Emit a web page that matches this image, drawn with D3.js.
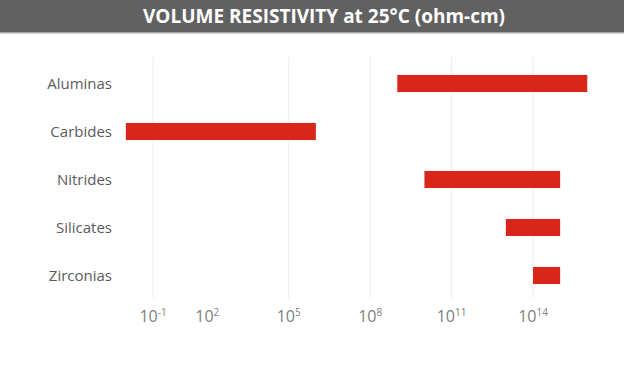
<!DOCTYPE html>
<html>
<head>
<meta charset="utf-8">
<script src="https://cdn.jsdelivr.net/npm/d3@7"></script>
<style>
  html, body { margin: 0; padding: 0; background: #fff; }
  svg { display: block; }
  .cat   { font-family: "Open Sans", sans-serif; font-size: 15px; fill: #5b5b5b; }
  .tick  { font-family: "Open Sans", sans-serif; font-size: 16px; fill: #808080; }
  .title { font-family: "Open Sans", sans-serif; font-size: 19px; font-weight: 700; fill: #fff; }
</style>
</head>
<body>
<svg id="chart"></svg>
<script>
/* data */
const categories = ["Aluminas", "Carbides", "Nitrides", "Silicates", "Zirconias"];
const lowValues  = [1e9,  1e-1, 1e10, 1e13, 1e14];   // ohm-cm
const highValues = [1e16, 1e6,  1e15, 1e15, 1e15];
const tickValues = [1e0, 1e2, 1e5, 1e8, 1e11, 1e14];
const tickExps   = ["-1", "2", "5", "8", "11", "14"];
const gridValues = [1e0, 1e5, 1e8, 1e11, 1e14];

const W = 624, H = 371;
const svg = d3.select("#chart").attr("width", W).attr("height", H);

/* title bar */
svg.append("rect").attr("x", 0).attr("y", 0).attr("width", W).attr("height", 32).attr("fill", "#616161");
svg.append("rect").attr("x", 0).attr("y", 32).attr("width", W).attr("height", 1.5).attr("fill", "#a8a8a8");
svg.append("text").attr("class", "title")
  .attr("x", 324).attr("y", 23).attr("text-anchor", "middle")
  .text("VOLUME RESISTIVITY at 25°C (ohm-cm)");

/* scales */
const x = d3.scaleLog().domain([1, 1e14]).range([153, 533]);
const y = d3.scaleBand().domain(categories).range([59.5, 299.5])
  .paddingInner(0.646).paddingOuter(0.323);

/* gridlines */
svg.append("g").selectAll("line")
  .data(gridValues).enter().append("line")
  .attr("x1", d => x(d)).attr("x2", d => x(d))
  .attr("y1", 57).attr("y2", 298)
  .attr("stroke", "#ececec").attr("stroke-width", 1);

/* bars */
const rows = categories.map((c, i) => ({ c, lo: lowValues[i], hi: highValues[i] }));
svg.append("g").selectAll("rect")
  .data(rows).enter().append("rect")
  .attr("x", d => x(d.lo))
  .attr("width", d => x(d.hi) - x(d.lo))
  .attr("y", d => y(d.c))
  .attr("height", y.bandwidth())
  .attr("fill", "#d8261b");

/* category labels */
svg.append("g").selectAll("text")
  .data(categories).enter().append("text")
  .attr("class", "cat")
  .attr("x", 112).attr("y", d => y(d) + y.bandwidth() / 2 + 1)
  .attr("text-anchor", "end").attr("dominant-baseline", "middle")
  .text(d => d);

/* x tick labels: 10 with superscript exponent */
const ticks = svg.append("g").selectAll("text")
  .data(tickValues).enter().append("text")
  .attr("class", "tick")
  .attr("x", d => x(d)).attr("y", 322)
  .attr("text-anchor", "middle");
ticks.append("tspan").text("10");
ticks.append("tspan").attr("dy", -6).attr("font-size", 10).text((d, i) => tickExps[i]);
</script>
</body>
</html>
